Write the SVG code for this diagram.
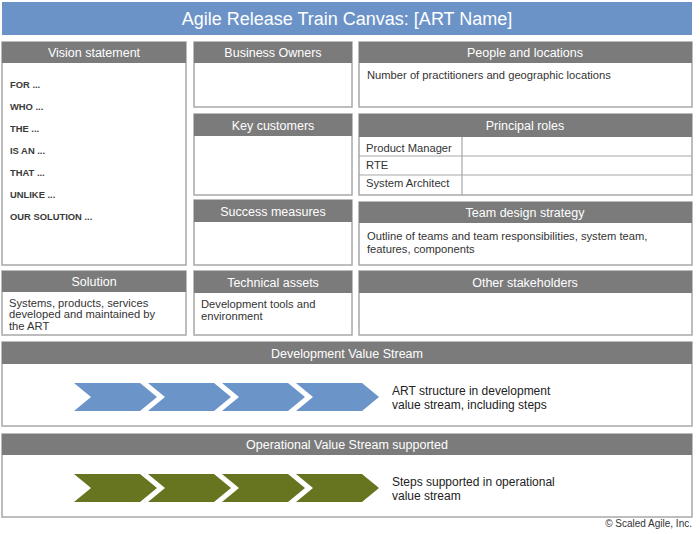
<svg xmlns="http://www.w3.org/2000/svg" width="700" height="534" viewBox="0 0 700 534">
<style>
text{font-family:"Liberation Sans",Arial,sans-serif;}
.box{fill:#fff;stroke:#a8a8a8;stroke-width:1.5;}
.hdr{fill:#7b7b7b;}
.ht{fill:#fff;font-size:12.5px;text-anchor:middle;}
.bt{fill:#333;font-size:11.2px;}
.vs{fill:#3a3a3a;font-size:9.4px;font-weight:bold;}
.line{stroke:#a8a8a8;stroke-width:1.2;fill:none;}
.cb{fill:#6b94c9;}
.cg{fill:#677521;}
.st{fill:#222;font-size:12px;}
</style>
<defs>
<polygon id="chev" points="0,0 66,0 83,14 66,28 0,28 17,14"/>
</defs>
<rect width="700" height="534" fill="#fff"/>
<g id="title">
<rect x="2" y="2" width="690" height="33" fill="#6b93c8"/>
<text x="347" y="25" fill="#fff" font-size="18" text-anchor="middle">Agile Release Train Canvas: [ART Name]</text>
</g>
<g id="vision">
<rect class="box" x="2" y="42" width="184" height="223"/>
<rect class="hdr" x="2" y="42" width="184" height="21"/>
<text class="ht" x="94" y="57">Vision statement</text>
<text class="vs" x="10" y="88">FOR ...</text>
<text class="vs" x="10" y="110">WHO ...</text>
<text class="vs" x="10" y="132">THE ...</text>
<text class="vs" x="10" y="154">IS AN ...</text>
<text class="vs" x="10" y="176">THAT ...</text>
<text class="vs" x="10" y="198">UNLIKE ...</text>
<text class="vs" x="10" y="220">OUR SOLUTION ...</text>
</g>
<g id="business-owners">
<rect class="box" x="194" y="42" width="158" height="65"/>
<rect class="hdr" x="194" y="42" width="158" height="21"/>
<text class="ht" x="273" y="57">Business Owners</text>
</g>
<g id="key-customers">
<rect class="box" x="194" y="114" width="158" height="81"/>
<rect class="hdr" x="194" y="114" width="158" height="22"/>
<text class="ht" x="273" y="130">Key customers</text>
</g>
<g id="success-measures">
<rect class="box" x="194" y="200" width="158" height="65"/>
<rect class="hdr" x="194" y="200" width="158" height="22"/>
<text class="ht" x="273" y="216">Success measures</text>
</g>
<g id="solution">
<rect class="box" x="2" y="271" width="184" height="64"/>
<rect class="hdr" x="2" y="271" width="184" height="21"/>
<text class="ht" x="94" y="286">Solution</text>
<text class="bt" x="9" y="307">Systems, products, services</text>
<text class="bt" x="9" y="318">developed and maintained by</text>
<text class="bt" x="9" y="330">the ART</text>
</g>
<g id="technical-assets">
<rect class="box" x="194" y="271" width="158" height="64"/>
<rect class="hdr" x="194" y="271" width="158" height="22"/>
<text class="ht" x="273" y="287">Technical assets</text>
<text class="bt" x="201" y="308">Development tools and</text>
<text class="bt" x="201" y="320">environment</text>
</g>
<g id="people-locations">
<rect class="box" x="359" y="42" width="333" height="65"/>
<rect class="hdr" x="359" y="42" width="333" height="21"/>
<text class="ht" x="525" y="57">People and locations</text>
<text class="bt" x="367" y="79">Number of practitioners and geographic locations</text>
</g>
<g id="principal-roles">
<rect class="box" x="359" y="114" width="333" height="81"/>
<rect class="hdr" x="359" y="114" width="333" height="23"/>
<text class="ht" x="525" y="130">Principal roles</text>
<path class="line" d="M359,156H692M359,175H692M462,137V195"/>
<text class="bt" x="366" y="152">Product Manager</text>
<text class="bt" x="366" y="169">RTE</text>
<text class="bt" x="366" y="187">System Architect</text>
</g>
<g id="team-design">
<rect class="box" x="359" y="202" width="333" height="63"/>
<rect class="hdr" x="359" y="202" width="333" height="21"/>
<text class="ht" x="525" y="217">Team design strategy</text>
<text class="bt" x="367" y="240">Outline of teams and team responsibilities, system team,</text>
<text class="bt" x="367" y="253">features, components</text>
</g>
<g id="other-stakeholders">
<rect class="box" x="359" y="271" width="333" height="64"/>
<rect class="hdr" x="359" y="271" width="333" height="22"/>
<text class="ht" x="525" y="287">Other stakeholders</text>
</g>
<g id="dev-value-stream">
<rect class="box" x="2" y="342" width="690" height="84"/>
<rect class="hdr" x="2" y="342" width="690" height="22"/>
<text class="ht" x="347" y="358">Development Value Stream</text>
<use href="#chev" class="cb" x="74" y="383"/>
<use href="#chev" class="cb" x="148" y="383"/>
<use href="#chev" class="cb" x="222" y="383"/>
<use href="#chev" class="cb" x="296" y="383"/>
<text class="st" x="392" y="395">ART structure in development</text>
<text class="st" x="392" y="409">value stream, including steps</text>
</g>
<g id="op-value-stream">
<rect class="box" x="2" y="434" width="690" height="83"/>
<rect class="hdr" x="2" y="434" width="690" height="21"/>
<text class="ht" x="347" y="449">Operational Value Stream supported</text>
<use href="#chev" class="cg" x="74" y="474"/>
<use href="#chev" class="cg" x="148" y="474"/>
<use href="#chev" class="cg" x="222" y="474"/>
<use href="#chev" class="cg" x="296" y="474"/>
<text class="st" x="392" y="486">Steps supported in operational</text>
<text class="st" x="392" y="500">value stream</text>
</g>
<g id="connectors"></g>
<text x="692" y="527" fill="#333" font-size="10" text-anchor="end" font-family="Liberation Sans, Arial, sans-serif">© Scaled Agile, Inc.</text>
</svg>
